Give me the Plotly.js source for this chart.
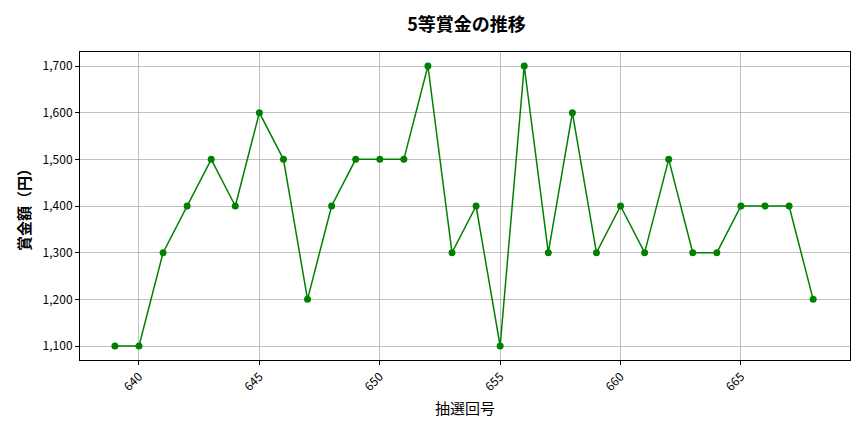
<!DOCTYPE html>
<html><head><meta charset="utf-8">
<script src="https://cdn.plot.ly/plotly-3.0.1.min.js"></script>
<style>body{margin:0}#c{width:864px;height:432px}</style>
</head><body><div id="c"></div>
<script>
const draws = [639,640,641,642,643,644,645,646,647,648,649,650,651,652,653,654,655,656,657,658,659,660,661,662,663,664,665,666,667,668];
const prizes = [1100,1100,1300,1400,1500,1400,1600,1500,1200,1400,1500,1500,1500,1700,1300,1400,1100,1700,1300,1600,1300,1400,1300,1500,1300,1300,1400,1400,1400,1200];
const xTicks = [640,645,650,655,660,665];
const yTicks = [1100,1200,1300,1400,1500,1600,1700];
const F = '"Noto Sans CJK JP", "Noto Sans", sans-serif';
Plotly.newPlot('c', [{
  x: draws, y: prizes, type: 'scatter', mode: 'lines+markers',
  line: {color: 'green', width: 1.5},
  marker: {color: 'green', size: 7}
}], {
  width: 864, height: 432,
  margin: {l: 80, r: 14, t: 52, b: 72},
  paper_bgcolor: 'white', plot_bgcolor: 'white',
  font: {family: F, color: 'black', size: 12},
  title: {text: '<b>5等賞金の推移</b>', x: 0.54, xanchor: 'center', y: 0.942, yanchor: 'middle', font: {size: 18, family: F}},
  xaxis: {
    range: [637.55, 669.53], tickvals: xTicks, ticktext: xTicks.map(String), tickangle: -45,
    showgrid: true, gridcolor: '#b0b0b0', gridwidth: 0.8,
    showline: true, linecolor: 'black', linewidth: 1, mirror: true,
    ticks: 'outside', ticklen: 4, tickcolor: 'black', zeroline: false,
    tickfont: {size: 12},
    title: {text: '抽選回号', font: {size: 15}, standoff: 10}
  },
  yaxis: {
    range: [1070, 1730], tickvals: yTicks, ticktext: yTicks.map(v => v.toLocaleString('en-US')),
    showgrid: true, gridcolor: '#b0b0b0', gridwidth: 0.8,
    showline: true, linecolor: 'black', linewidth: 1, mirror: true,
    ticks: 'outside', ticklen: 4, tickcolor: 'black', zeroline: false,
    tickfont: {size: 12},
    title: {text: '<b>賞金額（円）</b>', font: {size: 15}, standoff: 8}
  },
  showlegend: false
}, {staticPlot: true});
</script></body></html>
